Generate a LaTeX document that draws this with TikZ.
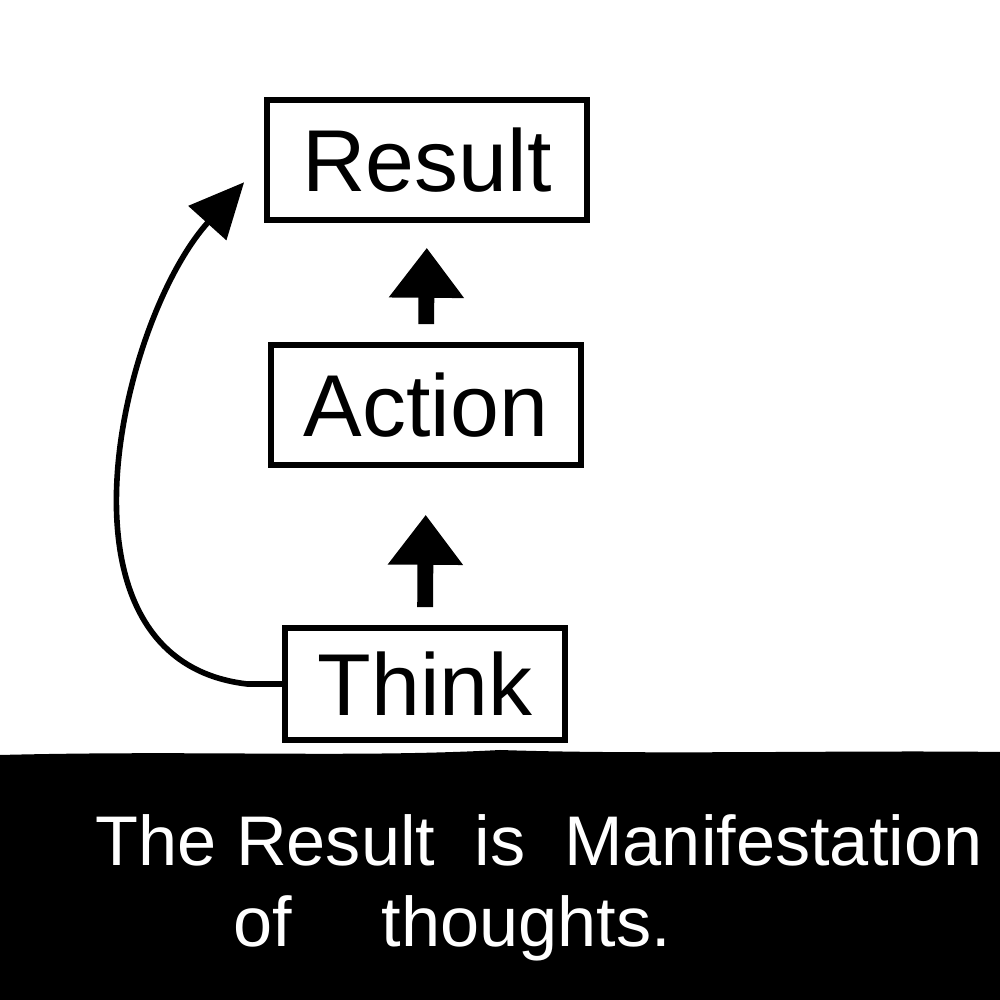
\documentclass[tikz,border=0pt]{standalone}
\usepackage{fontspec}
\setmainfont{Liberation Sans}
\usetikzlibrary{arrows.meta}
\tikzset{
  stage/.style = {draw, line width = 1.6pt, minimum height = 1.2cm, inner sep = 0pt,
                  font = \fontsize{25}{30}\selectfont},
  uparrow/.style = {line width = 4.5pt, -{Triangle[length = 0.5cm, width = 0.72cm]},
                    shorten < = 0.18cm},
  loopline/.style = {line width = 1.6pt, -{Triangle[length = 0.55cm, width = 0.5cm]},
                     shorten > = 0.3cm},
  caption/.style = {text = white, font = \fontsize{20}{24}\selectfont, inner sep = 0pt}
}
\begin{document}
\begin{tikzpicture}
	\useasboundingbox (0,0) rectangle (10,10);
	\fill[white] (0,0) rectangle (10,10);
	% black band at the bottom
	\fill[black] (0,0) -- (0,2.45) .. controls (2,2.5) and (3.5,2.42) .. (5,2.5)
		.. controls (6.5,2.45) and (8.5,2.5) .. (10,2.48) -- (10,0) -- cycle;
	\node[stage, minimum width = 3.2cm] (result) at (4.27,8.4) {Result};
	\node[stage, minimum width = 3.1cm] (action) at (4.26,5.95) {Action};
	\node[stage, minimum width = 2.8cm, minimum height = 1.12cm] (think) at (4.25,3.16) {Think};
	\draw[uparrow, shorten > = 0.47cm] (think.north) -- (action.south);
	\draw[uparrow, shorten > = 0.25cm] (action.north) -- (result.south);
	\draw[loopline] (think.west) -- ++(-0.35,0)
		.. controls (0.4,3.4) and (1.2,6.8) .. (result.west);
	\node[caption] (caption1) at (5.39,1.6) {The Result \ is \ Manifestation};
	\node[caption] (caption2) at (4.52,0.72) {of \quad thoughts.};
\end{tikzpicture}
\end{document}
